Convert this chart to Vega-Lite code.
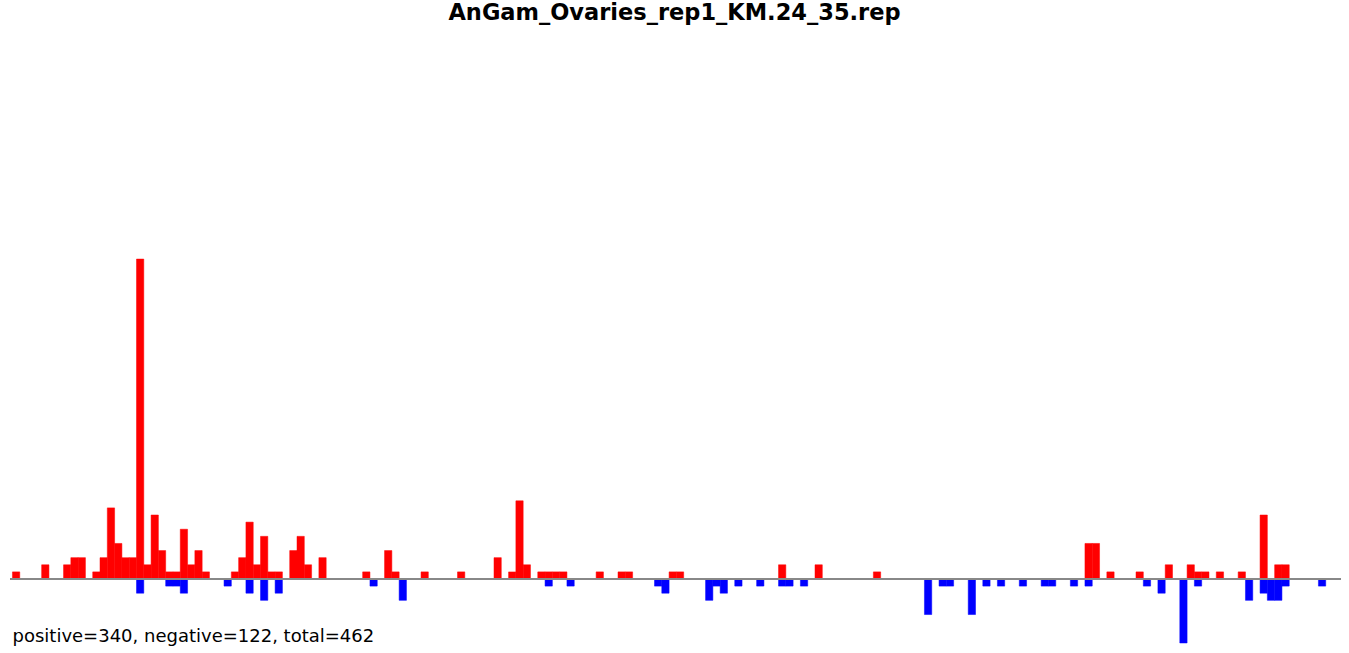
{
  "$schema": "https://vega.github.io/schema/vega-lite/v6.json",
  "width": 1349,
  "height": 653,
  "padding": 0,
  "autosize": "none",
  "background": "white",
  "config": {"view": {"stroke": null}},
  "title": {"text": "AnGam_Ovaries_rep1_KM.24_35.rep", "font": "DejaVu Sans", "fontSize": 22.5, "fontWeight": "bold", "color": "black", "anchor": "middle", "frame": "group", "baseline": "alphabetic", "offset": -42},
  "data": {"values": [
    {"i":0,"v":1,"s":"pos"},{"i":4,"v":2,"s":"pos"},{"i":7,"v":2,"s":"pos"},{"i":8,"v":3,"s":"pos"},{"i":9,"v":3,"s":"pos"},
    {"i":11,"v":1,"s":"pos"},{"i":12,"v":3,"s":"pos"},{"i":13,"v":10,"s":"pos"},{"i":14,"v":5,"s":"pos"},{"i":15,"v":3,"s":"pos"},
    {"i":16,"v":3,"s":"pos"},{"i":17,"v":45,"s":"pos"},{"i":18,"v":2,"s":"pos"},{"i":19,"v":9,"s":"pos"},{"i":20,"v":4,"s":"pos"},
    {"i":21,"v":1,"s":"pos"},{"i":22,"v":1,"s":"pos"},{"i":23,"v":7,"s":"pos"},{"i":24,"v":2,"s":"pos"},{"i":25,"v":4,"s":"pos"},
    {"i":26,"v":1,"s":"pos"},{"i":30,"v":1,"s":"pos"},{"i":31,"v":3,"s":"pos"},{"i":32,"v":8,"s":"pos"},{"i":33,"v":2,"s":"pos"},
    {"i":34,"v":6,"s":"pos"},{"i":35,"v":1,"s":"pos"},{"i":36,"v":1,"s":"pos"},{"i":38,"v":4,"s":"pos"},{"i":39,"v":6,"s":"pos"},
    {"i":40,"v":2,"s":"pos"},{"i":42,"v":3,"s":"pos"},{"i":48,"v":1,"s":"pos"},{"i":51,"v":4,"s":"pos"},{"i":52,"v":1,"s":"pos"},
    {"i":56,"v":1,"s":"pos"},{"i":61,"v":1,"s":"pos"},{"i":66,"v":3,"s":"pos"},{"i":68,"v":1,"s":"pos"},{"i":69,"v":11,"s":"pos"},
    {"i":70,"v":2,"s":"pos"},{"i":72,"v":1,"s":"pos"},{"i":73,"v":1,"s":"pos"},{"i":74,"v":1,"s":"pos"},{"i":75,"v":1,"s":"pos"},
    {"i":80,"v":1,"s":"pos"},{"i":83,"v":1,"s":"pos"},{"i":84,"v":1,"s":"pos"},{"i":90,"v":1,"s":"pos"},{"i":91,"v":1,"s":"pos"},
    {"i":105,"v":2,"s":"pos"},{"i":110,"v":2,"s":"pos"},{"i":118,"v":1,"s":"pos"},{"i":147,"v":5,"s":"pos"},{"i":148,"v":5,"s":"pos"},
    {"i":150,"v":1,"s":"pos"},{"i":154,"v":1,"s":"pos"},{"i":158,"v":2,"s":"pos"},{"i":161,"v":2,"s":"pos"},{"i":162,"v":1,"s":"pos"},
    {"i":163,"v":1,"s":"pos"},{"i":165,"v":1,"s":"pos"},{"i":168,"v":1,"s":"pos"},{"i":171,"v":9,"s":"pos"},{"i":173,"v":2,"s":"pos"},
    {"i":174,"v":2,"s":"pos"},
    {"i":17,"v":-2,"s":"neg"},{"i":21,"v":-1,"s":"neg"},{"i":22,"v":-1,"s":"neg"},{"i":23,"v":-2,"s":"neg"},{"i":29,"v":-1,"s":"neg"},
    {"i":32,"v":-2,"s":"neg"},{"i":34,"v":-3,"s":"neg"},{"i":36,"v":-2,"s":"neg"},{"i":49,"v":-1,"s":"neg"},{"i":53,"v":-3,"s":"neg"},
    {"i":73,"v":-1,"s":"neg"},{"i":76,"v":-1,"s":"neg"},{"i":88,"v":-1,"s":"neg"},{"i":89,"v":-2,"s":"neg"},{"i":95,"v":-3,"s":"neg"},
    {"i":96,"v":-1,"s":"neg"},{"i":97,"v":-2,"s":"neg"},{"i":99,"v":-1,"s":"neg"},{"i":102,"v":-1,"s":"neg"},{"i":105,"v":-1,"s":"neg"},
    {"i":106,"v":-1,"s":"neg"},{"i":108,"v":-1,"s":"neg"},{"i":125,"v":-5,"s":"neg"},{"i":127,"v":-1,"s":"neg"},{"i":128,"v":-1,"s":"neg"},
    {"i":131,"v":-5,"s":"neg"},{"i":133,"v":-1,"s":"neg"},{"i":135,"v":-1,"s":"neg"},{"i":138,"v":-1,"s":"neg"},{"i":141,"v":-1,"s":"neg"},
    {"i":142,"v":-1,"s":"neg"},{"i":145,"v":-1,"s":"neg"},{"i":147,"v":-1,"s":"neg"},{"i":155,"v":-1,"s":"neg"},{"i":157,"v":-2,"s":"neg"},
    {"i":160,"v":-9,"s":"neg"},{"i":162,"v":-1,"s":"neg"},{"i":169,"v":-3,"s":"neg"},{"i":171,"v":-2,"s":"neg"},{"i":172,"v":-3,"s":"neg"},
    {"i":173,"v":-3,"s":"neg"},{"i":174,"v":-1,"s":"neg"},{"i":179,"v":-1,"s":"neg"}
  ]},
  "layer": [
    {
      "mark": {"type": "bar", "binSpacing": 0, "strokeWidth": 0.5},
      "encoding": {
        "x": {"field": "i", "type": "quantitative", "bin": {"step": 1, "extent": [-2, 184]},
              "scale": {"domain": [-1.64, 183.26], "nice": false, "zero": false},
              "axis": {"domain": false, "ticks": false, "labels": false, "grid": false,
                       "title": "positive=340, negative=122, total=462",
                       "titleFont": "DejaVu Sans", "titleFontSize": 18, "titleFontWeight": "normal", "titleColor": "black",
                       "titleAnchor": "start", "titleAlign": "left", "titleBaseline": "alphabetic",
                       "titleX": 12, "titleY": -11.5}},
        "y": {"field": "v", "type": "quantitative",
              "scale": {"domain": [-10.41, 81.44], "nice": false, "zero": false},
              "axis": null},
        "y2": {"datum": 0},
        "color": {"field": "s", "type": "nominal",
                  "scale": {"domain": ["pos", "neg"], "range": ["#ff0000", "#0000ff"]},
                  "legend": null},
        "stroke": {"field": "s", "type": "nominal",
                   "scale": {"domain": ["pos", "neg"], "range": ["#ff0000", "#0000ff"]},
                   "legend": null}
      }
    },
    {
      "mark": {"type": "rule", "color": "#888888", "strokeWidth": 1.5},
      "encoding": {
        "x": {"datum": -0.15, "type": "quantitative"},
        "x2": {"datum": 182.15},
        "y": {"datum": 0, "type": "quantitative"}
      }
    }
  ]
}
